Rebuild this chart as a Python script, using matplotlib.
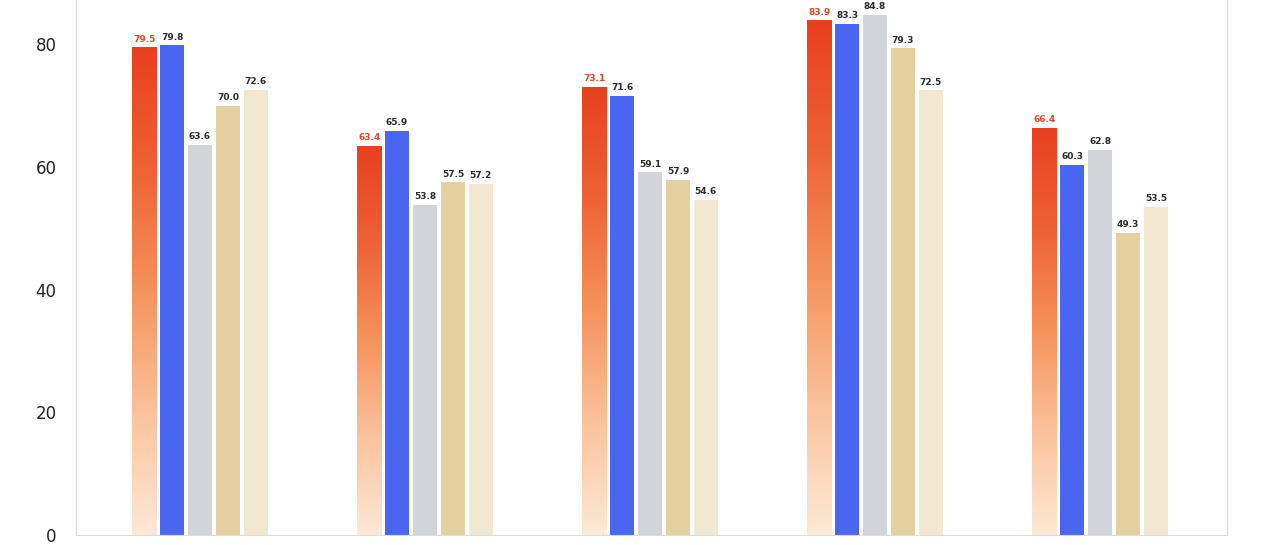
import numpy as np
import matplotlib.pyplot as plt
from matplotlib.colors import LinearSegmentedColormap

# values, one list per series (5 groups)
series_a = [79.5, 63.4, 73.1, 83.9, 66.4]
series_b = [79.8, 65.9, 71.6, 83.3, 60.3]
series_c = [63.6, 53.8, 59.1, 84.8, 62.8]
series_d = [70.0, 57.5, 57.9, 79.3, 49.3]
series_e = [72.6, 57.2, 54.6, 72.5, 53.5]
yticks = [0, 20, 40, 60, 80]

all_series = [series_a, series_b, series_c, series_d, series_e]
colors = ["#e8441f", "#4a66f0", "#d1d4d9", "#e3cf9f", "#f2e8d2"]

fig = plt.figure(figsize=(12.8, 5.45), dpi=100)
ax = fig.add_axes([76/1280, 10/545, (1227-76)/1280, 535/545])

x = np.arange(len(series_a))
width = 0.107
step = 0.124

grad = LinearSegmentedColormap.from_list(
    "redpeach", ["#fde9d6", "#fbc29c", "#f6935c", "#ee6235", "#e8401e"])

for k, vals in enumerate(all_series):
    pos = x + (k - 2) * step
    if k == 0:
        bars = ax.bar(pos, vals, width, color="none", edgecolor="none", zorder=2)
        for b in bars:
            x0, w, h = b.get_x(), b.get_width(), b.get_height()
            im = ax.imshow(np.linspace(0, 1, 256).reshape(-1, 1), cmap=grad,
                           origin="lower", aspect="auto",
                           extent=[x0, x0 + w, 0, h], zorder=2)
            im.set_clip_path(b)
    else:
        bars = ax.bar(pos, vals, width, color=colors[k], zorder=2)
    for b, v in zip(bars, vals):
        ax.text(b.get_x() + b.get_width() / 2, v + 0.6, f"{v:.1f}",
                ha="center", va="bottom", fontsize=6.5, fontweight="bold",
                color="#e5452a" if k == 0 else "#2a2a2a", zorder=3)

ax.set_xlim(-0.551, 4.564)
ax.set_ylim(0, 87.2)
ax.set_yticks(yticks)
ax.set_yticklabels([str(t) for t in yticks], fontsize=12, color="#222222")
ax.set_xticks([])
ax.tick_params(axis="y", length=0, pad=14)
for s in ["left", "right", "bottom"]:
    ax.spines[s].set_color("#dcdcdc")
ax.spines["top"].set_visible(False)

fig.savefig("out.png", dpi=100)
